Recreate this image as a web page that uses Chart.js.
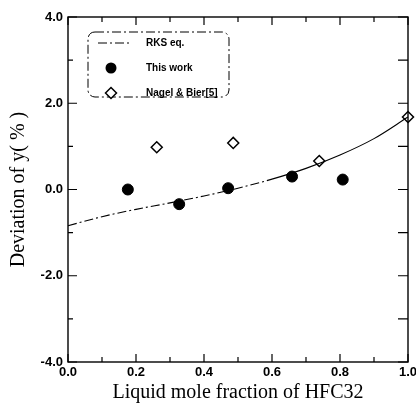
<!DOCTYPE html>
<html>
<head>
<meta charset="utf-8">
<script src="https://cdn.jsdelivr.net/npm/chart.js@4.4.1/dist/chart.umd.min.js"></script>
<style>
  html, body { margin: 0; padding: 0; background: #fff; }
  #wrap { width: 416px; height: 406px; }
</style>
</head>
<body>
<div id="wrap"><canvas id="chart" width="416" height="406"></canvas></div>
<script>
// RKS equation curve
var rksX = [0.0, 0.1, 0.2, 0.3, 0.4, 0.5, 0.6, 0.7, 0.8, 0.9, 1.0];
var rksY = [-0.84, -0.63, -0.46, -0.31, -0.15, 0.03, 0.24, 0.49, 0.80, 1.18, 1.68];
// measured points, this work
var workX = [0.176, 0.327, 0.471, 0.659, 0.808];
var workY = [0.0, -0.34, 0.03, 0.30, 0.23];
// Nagel & Bier [5]
var nagelX = [0.261, 0.486, 0.739, 1.0];
var nagelY = [0.98, 1.08, 0.66, 1.68];

var seriesNames = ['RKS eq.', 'This work', 'Nagel & Bier[5]'];
var xTitle = 'Liquid mole fraction of HFC32';
var yTitle = 'Deviation of y( % )';

var dashDot = [9, 3, 2, 3];
var sans = '"Liberation Sans", Arial, sans-serif';
var serif = '"Liberation Serif", "Times New Roman", serif';

var toPoints = function(xs, ys) {
	return xs.map(function(x, i) { return {x: x, y: ys[i]}; });
};

//inner tick marks on all four sides plus the frame
var framePlugin = {
	id: 'frame',
	afterDatasetsDraw: function(chart) {
		var ctx = chart.ctx, a = chart.chartArea;
		var xs = chart.scales.x, ys = chart.scales.y;
		ctx.save();
		ctx.strokeStyle = '#000';
		ctx.lineWidth = 1.4;
		ctx.strokeRect(a.left, a.top, a.right - a.left, a.bottom - a.top);
		ctx.lineWidth = 1.2;
		ctx.beginPath();
		xs.ticks.forEach(function(t) {
			var px = xs.getPixelForValue(t.value);
			var major = Math.round(t.value * 10) % 2 === 0;
			var len = major ? 8 : 5;
			ctx.moveTo(px, a.bottom); ctx.lineTo(px, a.bottom - len);
			ctx.moveTo(px, a.top); ctx.lineTo(px, a.top + len);
		});
		ys.ticks.forEach(function(t) {
			var py = ys.getPixelForValue(t.value);
			var major = Math.round(t.value) % 2 === 0;
			var len = major ? 9 : 5;
			ctx.moveTo(a.left, py); ctx.lineTo(a.left + len, py);
			ctx.moveTo(a.right, py); ctx.lineTo(a.right - 10, py);
		});
		ctx.stroke();
		ctx.restore();
	}
};

//boxed legend in the upper left corner
var legendPlugin = {
	id: 'boxLegend',
	afterDraw: function(chart) {
		var ctx = chart.ctx;
		var ds = chart.data.datasets;
		var bx = 88, by = 32, bw = 141, bh = 65, r = 7;
		ctx.save();
		ctx.strokeStyle = '#000';
		ctx.lineWidth = 1;
		ctx.setLineDash(dashDot);
		ctx.beginPath();
		ctx.roundRect(bx, by, bw, bh, r);
		ctx.stroke();
		ctx.setLineDash([]);

		var rows = [43, 68, 93];
		var symX = 111, textX = 146;
		// line sample
		ctx.setLineDash(dashDot);
		ctx.lineWidth = 1;
		ctx.beginPath();
		ctx.moveTo(98, rows[0]); ctx.lineTo(130, rows[0]);
		ctx.stroke();
		ctx.setLineDash([]);
		// circle
		ctx.fillStyle = '#000';
		ctx.beginPath();
		ctx.arc(symX, rows[1], ds[1].pointRadius, 0, Math.PI * 2);
		ctx.fill();
		// diamond
		var d = ds[2].pointRadius;
		ctx.lineWidth = ds[2].borderWidth;
		ctx.fillStyle = '#fff';
		ctx.beginPath();
		ctx.moveTo(symX, rows[2] - d); ctx.lineTo(symX + d, rows[2]);
		ctx.lineTo(symX, rows[2] + d); ctx.lineTo(symX - d, rows[2]);
		ctx.closePath();
		ctx.fill(); ctx.stroke();

		ctx.fillStyle = '#000';
		ctx.font = 'bold 10px ' + sans;
		ctx.textBaseline = 'middle';
		ds.forEach(function(set, i) {
			ctx.fillText(set.label, textX, rows[i]);
		});
		ctx.restore();
	}
};

var myChart = new Chart(document.getElementById('chart'), {
	type: 'scatter',
	data: {
		datasets: [
			{
				label: seriesNames[0],
				type: 'line',
				data: toPoints(rksX, rksY),
				borderColor: '#000',
				borderWidth: 1.1,
				pointRadius: 0,
				cubicInterpolationMode: 'monotone',
				segment: {
					borderDash: function(c) { return c.p0.parsed.x < 0.6 ? dashDot : undefined; }
				},
				clip: false
			},
			{
				label: seriesNames[1],
				data: toPoints(workX, workY),
				backgroundColor: '#000',
				borderColor: '#000',
				pointRadius: 5.5,
				pointStyle: 'circle',
				clip: false
			},
			{
				label: seriesNames[2],
				data: toPoints(nagelX, nagelY),
				backgroundColor: '#fff',
				borderColor: '#000',
				borderWidth: 1.5,
				pointRadius: 5.5,
				pointStyle: 'rectRot',
				clip: false
			}
		]
	},
	options: {
		responsive: false,
		animation: false,
		layout: { padding: { top: 17, right: 8, left: 0, bottom: 0 } },
		plugins: {
			legend: { display: false },
			tooltip: { enabled: false }
		},
		scales: {
			x: {
				type: 'linear',
				min: 0, max: 1,
				grid: { display: false, drawTicks: false },
				border: { display: false },
				ticks: {
					stepSize: 0.1,
					autoSkip: false,
					maxRotation: 0,
					padding: 3,
					color: '#000',
					font: { family: sans, size: 13, weight: 'bold' },
					callback: function(v) { return Math.round(v * 10) % 2 === 0 ? v.toFixed(1) : ''; }
				},
				title: {
					display: true, text: xTitle, color: '#000',
					font: { family: serif, size: 20 },
					padding: { top: 0, bottom: 1 }
				},
				afterFit: function(s) { s.height = 44; s.paddingLeft = 0; s.paddingRight = 0; }
			},
			y: {
				type: 'linear',
				min: -4, max: 4,
				grid: { display: false, drawTicks: false },
				border: { display: false },
				ticks: {
					stepSize: 1,
					autoSkip: false,
					padding: 5,
					color: '#000',
					font: { family: sans, size: 13, weight: 'bold' },
					callback: function(v) { return Math.round(v) % 2 === 0 ? v.toFixed(1) : ''; }
				},
				title: {
					display: true, text: yTitle, color: '#000',
					font: { family: serif, size: 20 },
					padding: { top: 7, bottom: 0 }
				},
				afterFit: function(s) { s.width = 68; s.paddingTop = 0; s.paddingBottom = 0; }
			}
		}
	},
	plugins: [framePlugin, legendPlugin]
});
</script>
</body>
</html>
